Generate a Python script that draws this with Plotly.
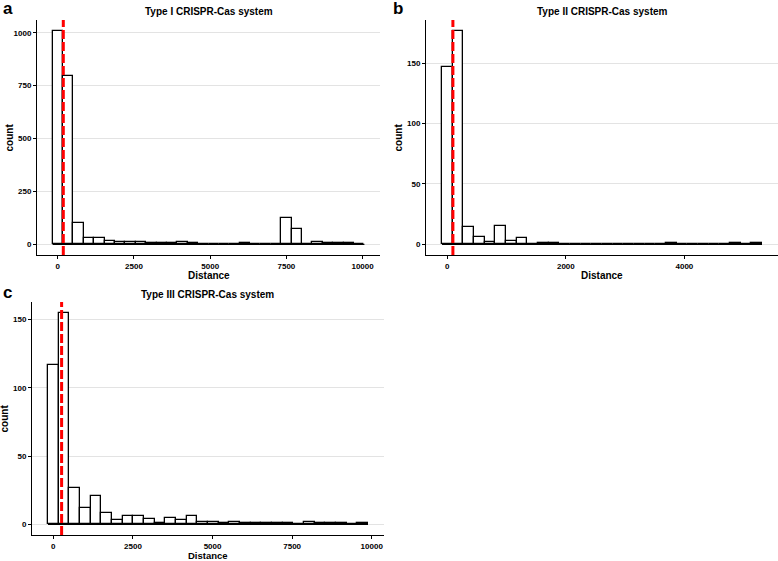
import plotly.graph_objects as go

# ---- data (30-bin histograms, ggplot-style) ----
bin_width_a = 341
counts_a = [1010, 794, 99, 28, 28, 17, 9, 9, 9, 5, 8, 4, 10, 8, 2, 1, 1, 1, 5, 1,
            1, 1, 124, 71, 2, 11, 8, 8, 5, 3]
bin_width_b = 180
counts_b = [147, 177, 14, 6, 2, 15, 3, 5, 0, 1, 1, 0, 0, 0, 0, 0, 0, 0, 0, 0,
            0, 1, 0, 0, 0, 0, 0, 1, 0, 1]
bin_width_c = 335
counts_c = [117, 155, 27, 12, 21, 8, 3, 6, 6, 4, 1, 5, 3, 6, 2, 2, 1, 2, 1, 1,
            1, 1, 1, 0, 2, 1, 1, 1, 0, 1]
median_a = 181
median_b = 94
median_c = 260
titles = ["Type I CRISPR-Cas system", "Type II CRISPR-Cas system", "Type III CRISPR-Cas system"]
letters = ["a", "b", "c"]
xticks_a = [0, 2500, 5000, 7500, 10000]
xticks_b = [0, 2000, 4000]
xticks_c = [0, 2500, 5000, 7500, 10000]
yticks_a = [0, 250, 500, 750, 1000]
yticks_b = [0, 50, 100, 150]
yticks_c = [0, 50, 100, 150]

W, H = 778, 561
FONT = "Liberation Sans, Arial, Helvetica, sans-serif"

panels = [
    dict(w=bin_width_a, c=counts_a, med=median_a, xt=xticks_a, yt=yticks_a,
         dom_x=(37, 380), dom_y=(20, 255), title_y=11, lab_y=275, lab_size=10, letter=(1, 8)),
    dict(w=bin_width_b, c=counts_b, med=median_b, xt=xticks_b, yt=yticks_b,
         dom_x=(426, 778), dom_y=(20, 255), title_y=11, lab_y=275, lab_size=10, letter=(391, 8)),
    dict(w=bin_width_c, c=counts_c, med=median_c, xt=xticks_c, yt=yticks_c,
         dom_x=(32, 384), dom_y=(302, 535), title_y=294, lab_y=555, lab_size=9.5, letter=(1, 292)),
]

fig = go.Figure()
shapes = []
annotations = []

for i, p in enumerate(panels):
    n = "" if i == 0 else str(i + 1)
    xa, ya = "x" + n, "y" + n
    centers = [k * p["w"] for k in range(len(p["c"]))]
    lo = centers[0] - p["w"] / 2
    hi = centers[-1] + p["w"] / 2
    # baseline outline of zero-height bins
    fig.add_trace(go.Scatter(x=[lo, hi], y=[0, 0], mode="lines",
                             line=dict(color="black", width=1.3),
                             xaxis=xa, yaxis=ya, showlegend=False, hoverinfo="skip"))
    fig.add_trace(go.Bar(x=centers, y=p["c"], width=[p["w"]] * len(centers),
                         marker=dict(color="white", line=dict(color="black", width=1.3)),
                         xaxis=xa, yaxis=ya, showlegend=False))
    xr = hi - lo
    ymax = max(p["c"])
    x0, x1 = p["dom_x"]
    yt, yb = p["dom_y"]
    axis_common = dict(showline=True, linecolor="black", linewidth=1,
                       ticks="outside", ticklen=3, tickcolor="black", tickwidth=1,
                       tickfont=dict(family=FONT, size=8, color="black", weight="bold"),
                       zeroline=False)
    fig.layout["xaxis" + n] = dict(
        domain=[x0 / W, x1 / W], anchor=ya, range=[lo - 0.05 * xr, hi + 0.05 * xr],
        tickvals=p["xt"], ticktext=[str(v) for v in p["xt"]], showgrid=False, **axis_common)
    fig.layout["yaxis" + n] = dict(
        domain=[1 - yb / H, 1 - yt / H], anchor=xa, range=[-0.05 * ymax, ymax * 1.05],
        tickvals=p["yt"], ticktext=[str(v) for v in p["yt"]],
        showgrid=True, gridcolor="#e3e3e3", gridwidth=1, **axis_common)
    shapes.append(dict(type="line", xref=xa, yref=ya + " domain", x0=p["med"], x1=p["med"],
                       y0=0, y1=1, line=dict(color="#ff0000", width=3, dash="9px,3px"),
                       layer="above"))
    cx = (x0 + x1) / 2 / W
    annotations.append(dict(text="<b>" + titles[i] + "</b>", x=cx, y=1 - p["title_y"] / H,
                            xref="paper", yref="paper", showarrow=False,
                            font=dict(family=FONT, size=10, color="black"),
                            xanchor="center", yanchor="middle"))
    annotations.append(dict(text="<b>Distance</b>", x=cx, y=1 - p["lab_y"] / H,
                            xref="paper", yref="paper", showarrow=False,
                            font=dict(family=FONT, size=p["lab_size"], color="black"),
                            xanchor="center", yanchor="middle"))
    annotations.append(dict(text="<b>count</b>", x=(x0 - 28) / W, y=1 - (yt + yb) / 2 / H,
                            xref="paper", yref="paper", showarrow=False, textangle=-90,
                            font=dict(family=FONT, size=10, color="black"),
                            xanchor="center", yanchor="middle"))
    annotations.append(dict(text="<b>" + letters[i] + "</b>", x=p["letter"][0] / W,
                            y=1 - p["letter"][1] / H, xref="paper", yref="paper",
                            showarrow=False, font=dict(family=FONT, size=17, color="black"),
                            xanchor="left", yanchor="middle"))

fig.update_layout(width=W, height=H, margin=dict(l=0, r=0, t=0, b=0),
                  paper_bgcolor="white", plot_bgcolor="white",
                  shapes=shapes, annotations=annotations, bargap=0)
fig.write_html("out.html", config={"displayModeBar": False},
               post_script="document.body.style.margin='0';document.body.style.overflow='hidden';")
